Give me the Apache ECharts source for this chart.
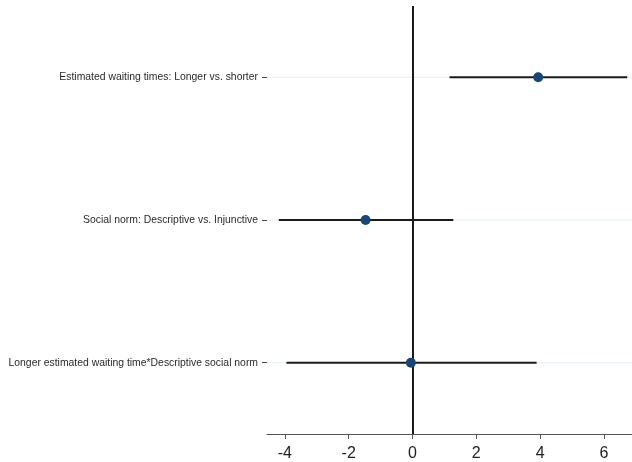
<!DOCTYPE html>
<html>
<head>
<meta charset="utf-8">
<script src="https://cdn.jsdelivr.net/npm/echarts@6/dist/echarts.min.js"></script>
<style>html,body{margin:0;padding:0;background:#fff}#c{width:632px;height:462px}</style>
</head>
<body>
<div id="c"></div>
<script>
// Categories listed bottom -> top (category axis grows upwards)
var categories = [
  'Longer estimated waiting time*Descriptive social norm',
  'Social norm: Descriptive vs. Injunctive',
  'Estimated waiting times: Longer vs. shorter'
];
var estimates = [-0.05, -1.47, 3.94];
var lowerCI = [-3.95, -4.19, 1.16];
var upperCI = [3.89, 1.28, 6.73];
var xTickValues = [-4, -2, 0, 2, 4, 6];

var chart = echarts.init(document.getElementById('c'), null, {renderer: 'canvas'});

var ciData = categories.map(function (c, i) { return [lowerCI[i], upperCI[i], i]; });
var pointData = categories.map(function (c, i) { return [estimates[i], i]; });

chart.setOption({
  animation: false,
  backgroundColor: '#ffffff',
  grid: {left: 267, right: 0, top: 6, bottom: 28, containLabel: false},
  xAxis: {
    type: 'value',
    min: -4.56,
    max: 6.88,
    axisLine: {show: true, onZero: false, lineStyle: {color: '#555', width: 1}},
    axisTick: {show: true, length: 5, customValues: xTickValues, lineStyle: {color: '#555'}},
    axisLabel: {customValues: xTickValues, fontSize: 16, color: '#222', fontFamily: 'Liberation Sans, Arial', margin: 12},
    splitLine: {show: false}
  },
  yAxis: {
    type: 'category',
    data: categories,
    boundaryGap: true,
    axisLine: {show: false, onZero: false},
    axisTick: {show: true, length: 5, alignWithLabel: true, lineStyle: {color: '#444'}},
    axisLabel: {fontSize: 10.4, color: '#2a2a2a', fontFamily: 'Liberation Sans, Arial', margin: 9},
    splitLine: {show: false}
  },
  series: [
    {
      type: 'custom',
      z: 3,
      data: ciData,
      dimensions: ['lo', 'hi', 'cat'],
      encode: {x: [0, 1], y: 2},
      renderItem: function (params, api) {
        var cat = api.value(2);
        var p1 = api.coord([api.value(0), cat]);
        var p2 = api.coord([api.value(1), cat]);
        var cs = params.coordSys;
        return {
          type: 'group',
          children: [
            {
              type: 'line',
              z2: 0,
              shape: {x1: cs.x, y1: p1[1], x2: cs.x + cs.width, y2: p1[1]},
              style: {stroke: '#e0eff2', lineWidth: 1}
            },
            {
              type: 'line',
              z2: 1,
              shape: {x1: p1[0], y1: p1[1], x2: p2[0], y2: p2[1]},
              style: {stroke: '#1a1a1a', lineWidth: 2}
            }
          ]
        };
      }
    },
    {
      type: 'scatter',
      z: 5,
      data: pointData,
      symbol: 'circle',
      symbolSize: 10,
      itemStyle: {color: '#1a4677', opacity: 1},
      markLine: {
        silent: true,
        symbol: 'none',
        label: {show: false},
        data: [{xAxis: 0, lineStyle: {color: '#1a1a1a', width: 2, type: 'solid'}}]
      }
    }
  ]
});
</script>
</body>
</html>
